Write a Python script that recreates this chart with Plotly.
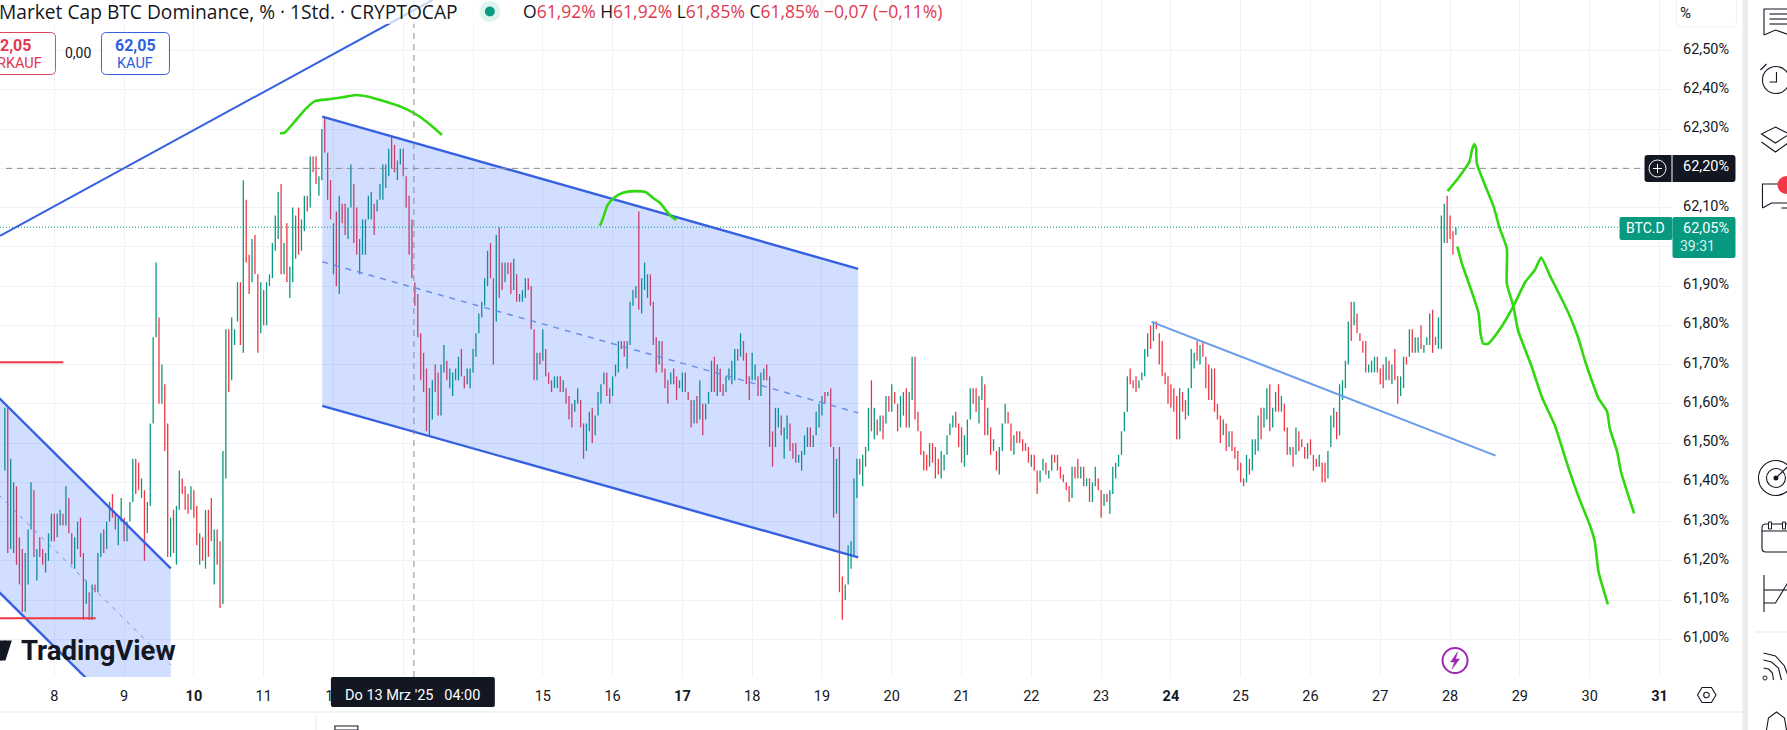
import pandas as pd
import plotly.graph_objects as go

# hourly bars, last one is 28 Mar 02:00
bar_high = [
    61.59, 61.59, 61.46, 61.40, 61.39, 61.26, 61.23, 61.22, 61.28, 61.40,
    61.38, 61.23, 61.26, 61.23, 61.22, 61.27, 61.32, 61.32, 61.32, 61.33,
    61.32, 61.39, 61.36, 61.27, 61.26, 61.30, 61.31, 61.22, 61.15, 61.12,
    61.14, 61.14, 61.22, 61.27, 61.28, 61.30, 61.35, 61.37, 61.32, 61.31,
    61.36, 61.31, 61.30, 61.35, 61.46, 61.46, 61.45, 61.41, 61.38, 61.35,
    61.55, 61.77, 61.96, 61.82, 61.70, 61.65, 61.55, 61.31, 61.33, 61.34,
    61.43, 61.41, 61.39, 61.37, 61.39, 61.38, 61.34, 61.27, 61.26, 61.33,
    61.33, 61.36, 61.28, 61.28, 61.25, 61.48, 61.79, 61.79, 61.82, 61.79,
    61.91, 61.91, 62.17, 62.12, 61.98, 62.02, 62.03, 61.93, 61.91, 61.89,
    61.91, 61.93, 62.01, 62.08, 62.14, 62.16, 62.01, 62.06, 61.95, 62.10,
    62.08, 62.10, 62.07, 62.13, 62.13, 62.23, 62.23, 62.23, 62.18, 62.30,
    62.33, 62.24, 62.17, 62.06, 62.09, 62.13, 62.11, 62.11, 62.10, 62.21,
    62.16, 62.10, 62.02, 62.07, 62.07, 62.13, 62.14, 62.11, 62.12, 62.16,
    62.21, 62.21, 62.25, 62.28, 62.26, 62.22, 62.25, 62.25, 62.18, 62.13,
    62.07, 61.91, 61.88, 61.78, 61.73, 61.69, 61.64, 61.66, 61.70, 61.68,
    61.70, 61.75, 61.71, 61.69, 61.68, 61.69, 61.72, 61.74, 61.67, 61.69,
    61.69, 61.74, 61.78, 61.83, 61.86, 61.92, 61.99, 62.01, 61.92, 62.03,
    62.05, 61.96, 61.96, 61.96, 61.96, 61.97, 61.93, 61.88, 61.89, 61.92,
    61.92, 61.90, 61.79, 61.73, 61.73, 61.79, 61.74, 61.68, 61.66, 61.67,
    61.67, 61.67, 61.66, 61.64, 61.62, 61.60, 61.61, 61.64, 61.61, 61.55,
    61.55, 61.58, 61.59, 61.57, 61.63, 61.65, 61.68, 61.68, 61.64, 61.67,
    61.70, 61.76, 61.76, 61.76, 61.76, 61.86, 61.89, 61.90, 62.09, 61.92,
    61.96, 61.93, 61.93, 61.86, 61.77, 61.76, 61.76, 61.69, 61.66, 61.68,
    61.69, 61.67, 61.66, 61.68, 61.68, 61.63, 61.61, 61.61, 61.62, 61.66,
    61.60, 61.60, 61.63, 61.71, 61.72, 61.70, 61.69, 61.65, 61.67, 61.69,
    61.71, 61.74, 61.74, 61.78, 61.76, 61.73, 61.67, 61.73, 61.70, 61.67,
    61.68, 61.69, 61.70, 61.67, 61.53, 61.59, 61.59, 61.57, 61.54, 61.57,
    61.55, 61.50, 61.50, 61.47, 61.48, 61.52, 61.54, 61.54, 61.52, 61.58,
    61.60, 61.62, 61.63, 61.63, 61.64, 61.49, 61.46, 61.49, 61.16, 61.14,
    61.24, 61.25, 61.41, 61.46, 61.46, 61.47, 61.49, 61.59, 61.66, 61.59,
    61.56, 61.57, 61.57, 61.62, 61.62, 61.65, 61.63, 61.60, 61.62, 61.63,
    61.64, 61.63, 61.72, 61.72, 61.58, 61.53, 61.48, 61.47, 61.50, 61.50,
    61.49, 61.46, 61.48, 61.47, 61.52, 61.55, 61.57, 61.58, 61.55, 61.54,
    61.52, 61.56, 61.64, 61.64, 61.64, 61.62, 61.67, 61.65, 61.59, 61.54,
    61.51, 61.48, 61.49, 61.55, 61.60, 61.58, 61.55, 61.52, 61.53, 61.53,
    61.51, 61.50, 61.49, 61.47, 61.47, 61.43, 61.43, 61.46, 61.45, 61.43,
    61.47, 61.47, 61.47, 61.44, 61.42, 61.40, 61.39, 61.44, 61.44, 61.46,
    61.44, 61.44, 61.41, 61.41, 61.40, 61.44, 61.41, 61.38, 61.37, 61.37,
    61.38, 61.44, 61.45, 61.47, 61.53, 61.58, 61.67, 61.69, 61.66, 61.67,
    61.66, 61.68, 61.74, 61.78, 61.80, 61.81, 61.81, 61.78, 61.76, 61.68,
    61.67, 61.65, 61.64, 61.62, 61.64, 61.63, 61.61, 61.64, 61.74, 61.73,
    61.76, 61.75, 61.76, 61.72, 61.70, 61.69, 61.69, 61.60, 61.57, 61.56,
    61.55, 61.53, 61.53, 61.49, 61.48, 61.45, 61.41, 61.47, 61.46, 61.51,
    61.51, 61.57, 61.59, 61.59, 61.64, 61.65, 61.59, 61.63, 61.65, 61.62,
    61.60, 61.54, 61.49, 61.49, 61.54, 61.53, 61.51, 61.49, 61.50, 61.51,
    61.47, 61.46, 61.47, 61.45, 61.45, 61.48, 61.57, 61.59, 61.58, 61.65,
    61.66, 61.71, 61.81, 61.86, 61.86, 61.83, 61.78, 61.76, 61.76, 61.70,
    61.71, 61.72, 61.72, 61.69, 61.70, 61.72, 61.71, 61.70, 61.74, 61.67,
    61.67, 61.72, 61.72, 61.79, 61.79, 61.77, 61.77, 61.80, 61.75, 61.77,
    61.83, 61.84, 61.77, 61.82, 62.08, 62.11, 62.13, 62.08, 62.04, 62.05,
]
bar_low = [
    61.43, 61.22, 61.23, 61.22, 61.19, 61.14, 61.07, 61.07, 61.14, 61.28,
    61.21, 61.15, 61.21, 61.19, 61.17, 61.20, 61.25, 61.25, 61.26, 61.29,
    61.29, 61.29, 61.27, 61.19, 61.18, 61.23, 61.21, 61.05, 61.09, 61.05,
    61.05, 61.12, 61.12, 61.21, 61.22, 61.23, 61.30, 61.31, 61.28, 61.24,
    61.30, 61.25, 61.25, 61.30, 61.35, 61.37, 61.38, 61.36, 61.20, 61.27,
    61.34, 61.55, 61.77, 61.60, 61.60, 61.48, 61.21, 61.21, 61.22, 61.19,
    61.33, 61.37, 61.33, 61.32, 61.33, 61.31, 61.24, 61.19, 61.20, 61.18,
    61.21, 61.25, 61.14, 61.19, 61.08, 61.09, 61.41, 61.63, 61.66, 61.75,
    61.81, 61.75, 61.73, 61.96, 61.88, 61.91, 61.93, 61.73, 61.78, 61.80,
    61.80, 61.90, 61.92, 61.99, 62.02, 61.93, 61.93, 61.91, 61.87, 61.91,
    61.97, 61.98, 61.99, 62.04, 62.09, 62.10, 62.19, 62.16, 62.13, 62.17,
    62.24, 62.12, 62.07, 61.93, 61.90, 61.88, 62.06, 62.03, 62.02, 62.10,
    62.01, 61.98, 61.93, 61.98, 61.98, 62.07, 62.07, 62.03, 62.09, 62.12,
    62.12, 62.15, 62.18, 62.20, 62.19, 62.17, 62.21, 62.18, 62.10, 61.98,
    61.92, 61.85, 61.77, 61.66, 61.63, 61.53, 61.52, 61.56, 61.63, 61.57,
    61.57, 61.68, 61.66, 61.64, 61.62, 61.66, 61.66, 61.67, 61.64, 61.65,
    61.64, 61.68, 61.72, 61.78, 61.82, 61.85, 61.90, 61.92, 61.70, 61.81,
    61.87, 61.89, 61.91, 61.93, 61.88, 61.89, 61.86, 61.86, 61.86, 61.87,
    61.89, 61.79, 61.66, 61.66, 61.70, 61.71, 61.67, 61.65, 61.63, 61.64,
    61.64, 61.63, 61.63, 61.60, 61.56, 61.54, 61.58, 61.60, 61.54, 61.46,
    61.48, 61.53, 61.50, 61.52, 61.57, 61.60, 61.65, 61.62, 61.60, 61.62,
    61.67, 61.68, 61.74, 61.72, 61.69, 61.75, 61.85, 61.87, 61.84, 61.83,
    61.89, 61.87, 61.85, 61.75, 61.68, 61.70, 61.68, 61.64, 61.60, 61.65,
    61.65, 61.61, 61.64, 61.63, 61.63, 61.61, 61.54, 61.55, 61.55, 61.56,
    61.52, 61.56, 61.60, 61.63, 61.63, 61.62, 61.63, 61.62, 61.63, 61.66,
    61.65, 61.66, 61.71, 61.72, 61.71, 61.65, 61.61, 61.66, 61.66, 61.62,
    61.62, 61.66, 61.66, 61.49, 61.44, 61.49, 61.54, 61.52, 61.46, 61.51,
    61.48, 61.46, 61.45, 61.45, 61.43, 61.47, 61.49, 61.49, 61.49, 61.52,
    61.54, 61.57, 61.60, 61.62, 61.49, 61.31, 61.32, 61.12, 61.05, 61.10,
    61.14, 61.18, 61.21, 61.36, 61.42, 61.39, 61.44, 61.48, 61.53, 61.51,
    61.52, 61.53, 61.51, 61.55, 61.58, 61.58, 61.60, 61.53, 61.54, 61.57,
    61.54, 61.54, 61.61, 61.56, 61.53, 61.47, 61.43, 61.43, 61.44, 61.45,
    61.41, 61.42, 61.41, 61.43, 61.47, 61.52, 61.54, 61.54, 61.49, 61.45,
    61.44, 61.47, 61.56, 61.60, 61.58, 61.55, 61.61, 61.52, 61.52, 61.47,
    61.48, 61.43, 61.42, 61.48, 61.55, 61.55, 61.48, 61.47, 61.50, 61.50,
    61.48, 61.48, 61.45, 61.44, 61.43, 61.37, 61.40, 61.43, 61.42, 61.41,
    61.43, 61.45, 61.43, 61.41, 61.40, 61.38, 61.35, 61.36, 61.41, 61.41,
    61.41, 61.39, 61.39, 61.35, 61.35, 61.39, 61.38, 61.31, 61.34, 61.35,
    61.32, 61.37, 61.41, 61.44, 61.47, 61.53, 61.58, 61.65, 61.64, 61.63,
    61.64, 61.66, 61.67, 61.72, 61.74, 61.76, 61.79, 61.70, 61.67, 61.65,
    61.60, 61.59, 61.58, 61.51, 61.51, 61.58, 61.56, 61.57, 61.64, 61.69,
    61.71, 61.70, 61.72, 61.64, 61.61, 61.61, 61.58, 61.56, 61.50, 61.52,
    61.48, 61.49, 61.48, 61.46, 61.43, 61.40, 61.39, 61.40, 61.42, 61.43,
    61.47, 61.48, 61.51, 61.54, 61.56, 61.53, 61.54, 61.58, 61.58, 61.58,
    61.53, 61.47, 61.47, 61.44, 61.47, 61.48, 61.49, 61.46, 61.46, 61.47,
    61.43, 61.44, 61.44, 61.40, 61.40, 61.41, 61.49, 61.54, 61.51, 61.52,
    61.61, 61.64, 61.70, 61.76, 61.80, 61.78, 61.76, 61.73, 61.68, 61.68,
    61.68, 61.68, 61.68, 61.65, 61.64, 61.66, 61.66, 61.65, 61.66, 61.60,
    61.62, 61.64, 61.70, 61.72, 61.73, 61.73, 61.73, 61.74, 61.73, 61.75,
    61.75, 61.73, 61.75, 61.74, 61.74, 62.01, 62.01, 62.02, 61.98, 62.03,
]
bar_dir = (
    "GRGGRRRGGG" "RGRRGGGRGG" "RGRRGGRRGR" "GRGGRGGRRG" "GRGGGRRGRG"
    "GGGRGRRGRG" "GRRRGRRGRG" "RRGRRGGRGG" "GRGRRGRRGR" "GGGGGRGRGG"
    "GRGGRGRRGG" "RRRGRGRRGG" "RRGGGGGRGG" "GGGRRGGRRR" "RRRRRRGGRR"
    "GGRGGGGRRG" "GGGGGGGRRG" "RRGRRGRGGG" "RRRGRGRRRG" "GRGRRRGGRR"
    "GGRGGGGRRG" "GGRRGGGGRG" "GGRRRGRRRG" "RRGGRRRGRG" "RGGGRGRRGG"
    "GGRGRRRGGR" "GGRRRGGRGG" "RRRGGGGRGG" "GGRGRRGRRG" "GGGGRGGGRG"
    "RGRGRGRRGG" "RGGRRRRRGR" "RRGGGGGRRR" "GGGRRGGRGR" "GRGGGRRGRR"
    "RRRGRRGGRG" "GRRRRRRGRR" "GRGRGGRRGR" "GGGGGGGRRR" "GGGGRGRRRR"
    "RRRRGRRGGG" "RGRRRGRRRG" "RGRRRRRGRG" "GGRGGRGGRG" "RRGRGRRRGR"
    "RRGRRGGGRG" "GGGRGRRRRG" "GGRRRGRGRR" "GGRGRGGRGG" "GRRGGGRRRG"
)
last_bar = "2025-03-28 02:00"

# y axis, 62,00% sits behind the price box in the reference
tick_vals = [61.0, 61.1, 61.2, 61.3, 61.4, 61.5, 61.6, 61.7, 61.8, 61.9, 62.0, 62.1, 62.2, 62.3, 62.4, 62.5]
tick_text = ["61,00%", "61,10%", "61,20%", "61,30%", "61,40%", "61,50%", "61,60%", "61,70%",
             "61,80%", "61,90%", "", "62,10%", "", "62,30%", "62,40%", "62,50%"]
y_range = [60.904, 62.629]
last_price = 62.05
cross_price = 62.20

# x axis, days of march; 13 and 14 are behind the date box
day_vals = list(range(8, 32))
day_text = ["8", "9", "<b>10</b>", "11", "12", "", "", "15", "16", "<b>17</b>", "18", "19", "20",
            "21", "22", "23", "<b>24</b>", "25", "26", "27", "28", "29", "30", "<b>31</b>"]
x_range = [7.222, 31.18]
cross_time = "2025-03-13 03:40"

# drawings, x in days of march, y in percent
chan1_days = [11.84, 19.519, 19.519, 11.84]
chan1_vals = [62.332, 61.944, 61.209, 61.595]
chan1_mid = [61.962, 61.577]
chan2_days = [6.795, 9.668, 9.668, 6.795]
chan2_vals = [61.688, 61.181, 60.688, 61.193]
chan2_mid = [61.44, 60.935]
long_days = [7.222, 13.418]
long_vals = [62.028, 62.629]
red1_days = [7.0, 8.13]
red1_vals = [61.706, 61.706]
red2_days = [7.0, 8.593]
red2_vals = [61.054, 61.054]
trend_days = [23.722, 28.652]
trend_vals = [61.809, 61.468]

arc1_days = [11.235, 11.307, 11.444, 11.609, 11.745, 11.937, 12.129, 12.321, 12.486, 12.705, 12.979, 13.198, 13.362, 13.555]
arc1_vals = [62.289, 62.292, 62.319, 62.353, 62.372, 62.376, 62.381, 62.387, 62.383, 62.372, 62.356, 62.336, 62.315, 62.285]
arc2_days = [15.818, 15.862, 15.929, 16.026, 16.147, 16.311, 16.476, 16.586, 16.685, 16.778, 16.86, 16.914]
arc2_vals = [62.053, 62.073, 62.107, 62.126, 62.138, 62.142, 62.139, 62.124, 62.111, 62.090, 62.075, 62.069]
path1_days = [27.964, 28.115, 28.277, 28.314, 28.346, 28.373, 28.383, 28.490, 28.625, 28.705, 28.813, 28.813,
              28.908, 28.973, 29.161, 29.323, 29.499, 29.698, 29.831, 30.019, 30.074, 30.127, 30.261]
path1_vals = [62.142, 62.175, 62.217, 62.247, 62.262, 62.251, 62.213, 62.162, 62.102, 62.051, 61.996, 61.907,
              61.848, 61.788, 61.699, 61.614, 61.546, 61.436, 61.368, 61.283, 61.248, 61.172, 61.089]
path2_days = [28.104, 28.169, 28.302, 28.409, 28.436, 28.474, 28.544, 28.705, 28.893, 29.080, 29.215, 29.305,
              29.428, 29.698, 29.831, 29.938, 30.046, 30.127, 30.25, 30.288, 30.394, 30.449, 30.637]
path2_vals = [62.001, 61.958, 61.890, 61.831, 61.780, 61.754, 61.753, 61.788, 61.844, 61.911, 61.941, 61.973,
              61.928, 61.831, 61.771, 61.707, 61.652, 61.614, 61.580, 61.538, 61.478, 61.427, 61.321]

GREEN = "#089981"
RED = "#f23645"
BLUE = "#3560e0"
PEN = "#2fd80f"
DARK = "#131722"
FONT = "Roboto"
WIDE_FONT = "Open Sans"

PLOT_W = 1672.5
PLOT_H = 677


def march(days):
    return [pd.Timestamp("2025-03-01") + pd.to_timedelta(d - 1, unit="D") for d in days]


def px(x):
    return x / PLOT_W


def py(y):
    return 1 - y / PLOT_H


def line_trace(days, vals, color, width, dash="solid", smooth=False):
    shape = dict(color=color, width=width, dash=dash)
    if smooth:
        shape.update(shape="spline", smoothing=0.5)
    return go.Scatter(x=march(days), y=vals, mode="lines", line=shape, hoverinfo="skip", showlegend=False)


times = pd.date_range(end=last_bar, periods=len(bar_high), freq="h")
bar_open = [l if d == "G" else h for h, l, d in zip(bar_high, bar_low, bar_dir)]
bar_close = [h if d == "G" else l for h, l, d in zip(bar_high, bar_low, bar_dir)]

fig = go.Figure()
fig.add_trace(go.Ohlc(x=times, open=bar_open, high=bar_high, low=bar_low, close=bar_close,
                      tickwidth=0, hoverinfo="skip", showlegend=False,
                      increasing=dict(line=dict(color=GREEN, width=1.3)),
                      decreasing=dict(line=dict(color=RED, width=1.3))))

for days, vals in [(chan1_days, chan1_vals), (chan2_days, chan2_vals)]:
    fig.add_trace(go.Scatter(x=march(days), y=vals, mode="lines", fill="toself",
                             fillcolor="rgba(41,98,255,0.21)", line=dict(width=0),
                             hoverinfo="skip", showlegend=False))

fig.add_trace(line_trace(chan1_days[:2], chan1_vals[:2], BLUE, 2.4))
fig.add_trace(line_trace(chan1_days[:2], chan1_vals[3:1:-1], BLUE, 2.4))
fig.add_trace(line_trace(chan1_days[:2], chan1_mid, "#6f8ee8", 1.5, dash="6px,6px"))
fig.add_trace(line_trace(chan2_days[:2], chan2_vals[:2], BLUE, 2.4))
fig.add_trace(line_trace(chan2_days[:2], chan2_vals[3:1:-1], BLUE, 2.4))
fig.add_trace(line_trace(chan2_days[:2], chan2_mid, "#6f8ee8", 1, dash="4px,6px"))
fig.add_trace(line_trace(long_days, long_vals, BLUE, 2))
fig.add_trace(line_trace(red1_days, red1_vals, RED, 2))
fig.add_trace(line_trace(red2_days, red2_vals, RED, 2))
fig.add_trace(line_trace(trend_days, trend_vals, "#6a9cec", 2))
for days, vals in [(arc1_days, arc1_vals), (arc2_days, arc2_vals), (path1_days, path1_vals), (path2_days, path2_vals)]:
    fig.add_trace(line_trace(days, vals, PEN, 2.6, smooth=True))

shapes = []
notes = []


def rect(x0, y0, x1, y1, fill=None, edge=None, width=1):
    shapes.append(dict(type="rect", xref="paper", yref="paper", x0=px(x0), x1=px(x1), y0=py(y1), y1=py(y0),
                       fillcolor=fill or "rgba(0,0,0,0)", line=dict(color=edge or "rgba(0,0,0,0)", width=width)))


def round_rect(x0, y0, x1, y1, r, fill=None, edge=None, width=1):
    p = [("M", x0 + r, y0), ("L", x1 - r, y0), ("Q", x1, y0, x1, y0 + r), ("L", x1, y1 - r),
         ("Q", x1, y1, x1 - r, y1), ("L", x0 + r, y1), ("Q", x0, y1, x0, y1 - r), ("L", x0, y0 + r),
         ("Q", x0, y0, x0 + r, y0)]
    d = ""
    for seg in p:
        nums = seg[1:]
        d += seg[0] + " ".join(f"{px(nums[i]):.5f},{py(nums[i + 1]):.5f}" for i in range(0, len(nums), 2)) + " "
    shapes.append(dict(type="path", xref="paper", yref="paper", path=d + "Z",
                       fillcolor=fill or "rgba(0,0,0,0)", line=dict(color=edge or "rgba(0,0,0,0)", width=width)))


def poly(points, edge=DARK, width=1.2, fill=None, close=False):
    d = "M" + " L".join(f"{px(x):.5f},{py(y):.5f}" for x, y in points)
    if close:
        d += " Z"
    shapes.append(dict(type="path", xref="paper", yref="paper", path=d,
                       fillcolor=fill or "rgba(0,0,0,0)", line=dict(color=edge, width=width)))


def circle(cx, cy, r, fill=None, edge=None, width=1.2):
    shapes.append(dict(type="circle", xref="paper", yref="paper", x0=px(cx - r), x1=px(cx + r),
                       y0=py(cy + r), y1=py(cy - r), fillcolor=fill or "rgba(0,0,0,0)",
                       line=dict(color=edge or "rgba(0,0,0,0)", width=width)))


def note(x, y, text, size=13, color=DARK, anchor="center", family=FONT):
    notes.append(dict(xref="paper", yref="paper", x=px(x), y=py(y), text=text, showarrow=False,
                      xanchor=anchor, yanchor="middle", font=dict(family=family, size=size, color=color)))


# crosshair and price lines
shapes.append(dict(type="line", xref="x", yref="paper", x0=cross_time, x1=cross_time, y0=0, y1=1,
                   line=dict(color="#8a8d96", width=1, dash="6px,5px")))
shapes.append(dict(type="line", xref="paper", yref="y", x0=px(6), x1=px(1645), y0=cross_price, y1=cross_price,
                   line=dict(color="#8a8d96", width=1, dash="6px,5px")))
shapes.append(dict(type="line", xref="paper", yref="y", x0=0, x1=px(1621), y0=last_price, y1=last_price,
                   line=dict(color=GREEN, width=1, dash="1px,2px")))

# header
rect(0, 0, 475, 24, fill="rgba(255,255,255,0.72)")
note(-3, 11, "Market Cap BTC Dominance, % · 1Std. · CRYPTOCAP", size=19.2, anchor="left", family=WIDE_FONT)
circle(490, 11.5, 10.5, fill="#dff3ef")
circle(490, 11.5, 5, fill=GREEN)
ohlc_red = "<span style='color:%s'>%%s</span>" % "#e0384f"
note(521, 11, "O" + ohlc_red % "61,92%" + " H" + ohlc_red % "61,92%" + " L" + ohlc_red % "61,85%"
     + " C" + ohlc_red % "61,85%" + " " + ohlc_red % "−0,07 (−0,11%)", size=17.5, anchor="left", family=WIDE_FONT)

# order buttons
round_rect(-8, 32.5, 55.5, 74.5, 5, fill="#ffffff", edge="#e0445c")
note(16, 46, "<b>2,05</b>", size=16, color="#e0384f")
note(20, 64, "RKAUF", size=14.5, color="#e0384f")
note(78.5, 53.5, "0,00", size=14)
round_rect(101.5, 32.5, 169.5, 74.5, 5, fill="#ffffff", edge="#3560e0")
note(135.5, 46, "<b>62,05</b>", size=16, color="#2f5fe0")
note(135.5, 64, "KAUF", size=14.5, color="#2f5fe0")

# logo
poly([(-2, 641), (5, 641), (1, 660), (-2, 660)], edge=DARK, fill=DARK, close=True)
poly([(5, 641), (11, 641), (5, 660), (1, 660)], edge=DARK, fill=DARK, close=True)
note(19, 650, "<b>TradingView</b>", size=27.5, anchor="left")

# date box
round_rect(331, 677, 495, 707, 2, fill=DARK)
note(413, 695, "Do 13 Mrz '25\u00a0\u00a0\u00a004:00", size=14.5, color="#ffffff")

# bolt marker
circle(1455.5, 660.5, 12.5, fill="#ffffff", edge="#9c27b0", width=2)
poly([(1458, 652), (1451, 662), (1455, 662), (1452.5, 669), (1460, 659), (1456, 659)],
     edge="#9c27b0", fill="#9c27b0", width=0.5, close=True)

# price axis boxes
round_rect(1677, -8, 1737, 27, 4, fill="#ffffff", edge="#eef0f3")
note(1686, 13, "%", size=15)
round_rect(1645, 155, 1736, 182, 3, fill=DARK)
poly([(1672.5, 155), (1672.5, 182)], edge="#ffffff", width=1)
circle(1658, 168.5, 8.5, edge="#ffffff", width=1)
poly([(1653.5, 168.5), (1662.5, 168.5)], edge="#ffffff", width=1)
poly([(1658, 164), (1658, 173)], edge="#ffffff", width=1)
note(1707, 167, "62,20%", size=14.5, color="#ffffff")
round_rect(1620, 217, 1673, 240, 2, fill=GREEN)
note(1646, 228, "BTC.D", size=14, color="#ffffff")
round_rect(1673, 217, 1736, 258, 2, fill=GREEN)
note(1707, 228, "62,05%", size=14.5, color="#ffffff")
note(1698, 246, "39:31", size=14, color="#d9f2ec")

# settings hexagon
poly([(1698, 695), (1702.5, 687.5), (1712, 687.5), (1716.5, 695), (1712, 702.5), (1702.5, 702.5)], width=1.1, close=True)
circle(1707, 695, 2.8, edge=DARK, width=1.1)

# page frame on the right and bottom
rect(1743, -5, 1748.5, 735, fill="#ebebeb")
poly([(0, 712), (1743, 712)], edge="#e6e8ee", width=1.2)
poly([(316, 716), (316, 735)], edge="#e6e8ee", width=1)
poly([(335, 735), (335, 726), (358, 726), (358, 735)], width=1.1)
poly([(335, 730), (358, 730)], width=1)

# side toolbar
poly([(1764.5, 35), (1764.5, 9), (1790, 9)], width=1.1)
poly([(1764.5, 35), (1776, 30), (1790, 35)], width=1.1)
for yy in (14, 19, 24):
    poly([(1770, yy), (1790, yy)], width=1.1)
circle(1776.5, 80, 13.5, edge=DARK, width=1.1)
poly([(1777, 72), (1777, 82), (1770, 82)], width=1.1)
poly([(1761, 70), (1767, 64)], width=1.1)
poly([(1776, 127), (1790, 134), (1776, 143), (1762, 134)], width=1.1, close=True)
poly([(1762, 142), (1776, 152), (1790, 142)], width=1.1)
poly([(1763, 208), (1763, 184), (1790, 184)], width=1.1)
poly([(1763, 208), (1772, 203), (1790, 203)], width=1.1)
poly([(1782, 208), (1790, 208)], width=1.1)
circle(1787, 185, 9, fill="#f23645")
circle(1776.5, 478, 17.5, edge=DARK, width=1.1)
circle(1776.5, 478, 9.5, edge=DARK, width=1.1)
circle(1776.5, 478, 2.5, fill=DARK)
poly([(1776.5, 478), (1790, 465)], width=1.1)
round_rect(1762.5, 524, 1795, 552, 4, edge=DARK, width=1.1)
poly([(1762.5, 531), (1795, 531)], width=1.1)
rect(1769, 522, 1772, 529, fill="#ffffff", edge=DARK)
rect(1783, 522, 1786, 529, fill="#ffffff", edge=DARK)
poly([(1764.5, 575), (1764.5, 612)], width=1.1)
poly([(1764.5, 590), (1790, 590)], width=1.1)
poly([(1764.5, 603), (1776, 603), (1790, 580)], width=1.1)
poly([(1756, 632), (1790, 632)], edge="#e6e8ee", width=1.2)
circle(1765.5, 678, 2, edge=DARK, width=1)
poly([(1764, 668), (1769, 669), (1773, 673), (1774, 680)], width=1.1)
poly([(1764, 660), (1772, 662), (1779, 668), (1782, 680)], width=1.1)
poly([(1764, 653), (1776, 656), (1785, 666), (1790, 680)], width=1.1)
poly([(1767, 730), (1769, 718), (1777, 712), (1785, 718), (1787, 730)], width=1.1)

fig.update_layout(
    width=1787,
    height=730,
    autosize=False,
    margin=dict(l=0, r=1787 - PLOT_W, t=0, b=730 - PLOT_H),
    paper_bgcolor="#ffffff",
    plot_bgcolor="#ffffff",
    showlegend=False,
    hovermode=False,
    font=dict(family=FONT, size=14, color=DARK),
    shapes=shapes,
    annotations=notes,
    xaxis=dict(
        type="date",
        range=march(x_range),
        tickmode="array",
        tickvals=march(day_vals),
        ticktext=day_text,
        showgrid=True,
        gridcolor="#f0f2f7",
        gridwidth=1,
        zeroline=False,
        showline=False,
        ticks="",
        rangeslider=dict(visible=False),
        tickfont=dict(family=FONT, size=14.5, color=DARK),
        ticklabelstandoff=8,
    ),
    yaxis=dict(
        side="right",
        range=y_range,
        tickmode="array",
        tickvals=tick_vals,
        ticktext=tick_text,
        showgrid=True,
        gridcolor="#f0f2f7",
        gridwidth=1,
        zeroline=False,
        showline=False,
        ticks="",
        tickfont=dict(family=FONT, size=14.5, color=DARK),
        ticklabelstandoff=10,
        ticklabelshift=-2,
    ),
)

fig.write_html("out.html", config=dict(displayModeBar=False),
               post_script="document.body.style.margin='0';")
